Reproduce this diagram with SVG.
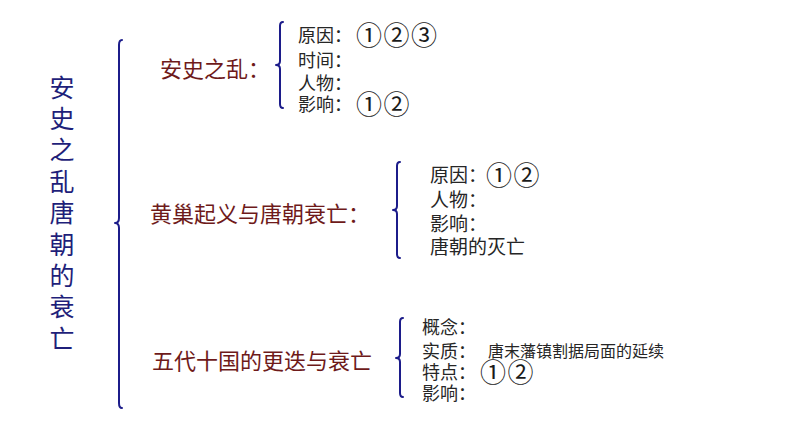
<svg xmlns="http://www.w3.org/2000/svg" width="794" height="447" viewBox="0 0 794 447">
<style>
.title{font-family:"Noto Sans CJK SC","Liberation Sans",sans-serif;font-size:25px;fill:#1f1f7a;text-anchor:middle}
.head{font-family:"Noto Sans CJK SC","Liberation Sans",sans-serif;font-size:22px;fill:#6e1a1a}
.item{font-family:"Noto Sans CJK SC","Liberation Sans",sans-serif;font-size:18px;fill:#262626}
.item2{font-family:"Noto Sans CJK SC","Liberation Sans",sans-serif;font-size:19px;fill:#262626}
.small{font-family:"Noto Sans CJK SC","Liberation Sans",sans-serif;font-size:16px;fill:#262626}
.num{font-family:"Noto Sans CJK SC","DejaVu Sans",sans-serif;font-size:26px;fill:#1a1a1a;letter-spacing:1.5px}
.brace{fill:none;stroke:#1c1c8a;stroke-width:2;stroke-linecap:round;stroke-linejoin:round}
</style>
<rect width="794" height="447" fill="#ffffff"/>
<g id="title">
<text class="title"><tspan x="62" y="96.5">安</tspan><tspan x="62" y="127.9">史</tspan><tspan x="62" y="159.3">之</tspan><tspan x="62" y="190.7">乱</tspan><tspan x="62" y="222.1">唐</tspan><tspan x="62" y="253.5">朝</tspan><tspan x="62" y="284.9">的</tspan><tspan x="62" y="316.3">衰</tspan><tspan x="62" y="347.7">亡</tspan></text>
</g>
<g id="connectors">
<path class="brace" d="M122 40 Q119 40 119 45 L119 218 Q119 223 115 223 Q119 223 119 228 L119 403 Q119 408 122 408"/>
<path class="brace" d="M283 22 Q280 22 280 26 L280 61 Q280 65 276 65 Q280 65 280 69 L280 104 Q280 108 283 108"/>
<path class="brace" d="M400 162 Q397 162 397 166 L397 206 Q397 210 393 210 Q397 210 397 214 L397 254 Q397 258 400 258"/>
<path class="brace" d="M403 318 Q400 318 400 322 L400 354 Q400 358 396 358 Q400 358 400 362 L400 393 Q400 397 403 397"/>
</g>
<g id="anshi">
<text class="head" x="160" y="76.5">安史之乱：</text>
</g>
<g id="anshi-items">
<text class="item" x="298" y="42">原因：</text>
<text class="num" x="356" y="45">①②③</text>
<text class="item" x="298" y="67">时间：</text>
<text class="item" x="298" y="89.5">人物：</text>
<text class="item" x="298" y="111">影响：</text>
<text class="num" x="356" y="114">①②</text>
</g>
<g id="huangchao">
<text class="head" x="150" y="221.5">黄巢起义与唐朝衰亡：</text>
</g>
<g id="huangchao-items">
<text class="item2" x="430" y="182">原因：</text>
<text class="num" x="486" y="185">①②</text>
<text class="item2" x="430" y="207">人物：</text>
<text class="item2" x="430" y="231">影响：</text>
<text class="item2" x="430" y="254">唐朝的灭亡</text>
</g>
<g id="wudai">
<text class="head" x="152" y="368.5">五代十国的更迭与衰亡</text>
</g>
<g id="wudai-items">
<text class="item" x="422" y="334">概念：</text>
<text class="item" x="422" y="357.5">实质：</text>
<text class="small" x="488" y="357">唐末藩镇割据局面的延续</text>
<text class="item" x="422" y="378.5">特点：</text>
<text class="num" x="480" y="382">①②</text>
<text class="item" x="422" y="400">影响：</text>
</g>
</svg>
